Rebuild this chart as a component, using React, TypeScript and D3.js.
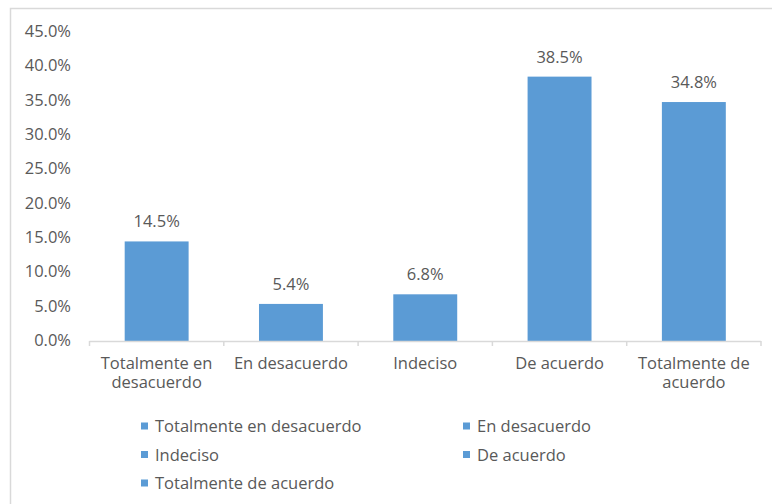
import React from "react";
import * as d3 from "d3";

const categories = [
  "Totalmente en desacuerdo",
  "En desacuerdo",
  "Indeciso",
  "De acuerdo",
  "Totalmente de acuerdo",
];
const axisLabelLines = [
  ["Totalmente en", "desacuerdo"],
  ["En desacuerdo"],
  ["Indeciso"],
  ["De acuerdo"],
  ["Totalmente de", "acuerdo"],
];
const values = [14.5, 5.4, 6.8, 38.5, 34.8];
const yTicks = [0, 5, 10, 15, 20, 25, 30, 35, 40, 45];

const W = 772;
const H = 504;
const FONT = "'Open Sans', sans-serif";
const TEXT = "#595959";
const BAR = "#5B9BD5";
const LINE = "#D9D9D9";

export default function App() {
  const x = d3
    .scaleBand<string>()
    .domain(categories)
    .range([89.5, 761])
    .paddingInner(0.524)
    .paddingOuter(0.262);
  const y = d3.scaleLinear().domain([0, 45]).range([341, 32]);
  const fmt = (v: number) => d3.format(".1f")(v) + "%";
  const step = x.step();
  const r0 = x.range()[0];

  const legendCols = [141, 463];
  const legendRows = [426, 454.5, 483];

  return (
    <>
      <style>{`body{margin:0}`}</style>
      <svg width={W} height={H} style={{ display: "block" }} fontFamily={FONT}>
        <rect x={0} y={0} width={W} height={H} fill="#fff" />
        <rect x={10.5} y={8.5} width={W + 20} height={H + 20} fill="none" stroke={LINE} strokeWidth={1.5} />
        {/* y tick labels */}
        {yTicks.map((t) => (
          <text key={t} x={71} y={y(t) + 5} textAnchor="end" fontSize={16.5} fill={TEXT}>
            {fmt(t)}
          </text>
        ))}
        {/* bars */}
        {categories.map((c, i) => (
          <rect key={c} x={x(c)} y={y(values[i])} width={x.bandwidth()} height={y(0) - y(values[i])} fill={BAR} />
        ))}
        {/* value labels */}
        {categories.map((c, i) => (
          <text
            key={c}
            x={(x(c) as number) + x.bandwidth() / 2}
            y={y(values[i]) - 14}
            textAnchor="middle"
            fontSize={16.5}
            fill={TEXT}
          >
            {fmt(values[i])}
          </text>
        ))}
        {/* x axis */}
        <line x1={r0} x2={x.range()[1]} y1={y(0) + 0.5} y2={y(0) + 0.5} stroke={LINE} strokeWidth={1.5} />
        {d3.range(categories.length + 1).map((i) => (
          <line key={i} x1={r0 + i * step} x2={r0 + i * step} y1={y(0)} y2={y(0) + 5} stroke={LINE} strokeWidth={1.5} />
        ))}
        {categories.map((c, i) => (
          <text key={c} textAnchor="middle" fontSize={16.5} fill={TEXT}>
            {axisLabelLines[i].map((ln, j) => (
              <tspan key={j} x={(x(c) as number) + x.bandwidth() / 2} y={369 + j * 19}>
                {ln}
              </tspan>
            ))}
          </text>
        ))}
        {/* legend */}
        {categories.map((c, i) => {
          const col = i % 2;
          const row = Math.floor(i / 2);
          const lx = legendCols[col];
          const ly = legendRows[row];
          return (
            <g key={c}>
              <rect x={lx} y={ly - 3.5} width={7} height={7} fill={BAR} />
              <text x={lx + 14} y={ly + 6} fontSize={16.5} fill={TEXT}>
                {c}
              </text>
            </g>
          );
        })}
      </svg>
    </>
  );
}
